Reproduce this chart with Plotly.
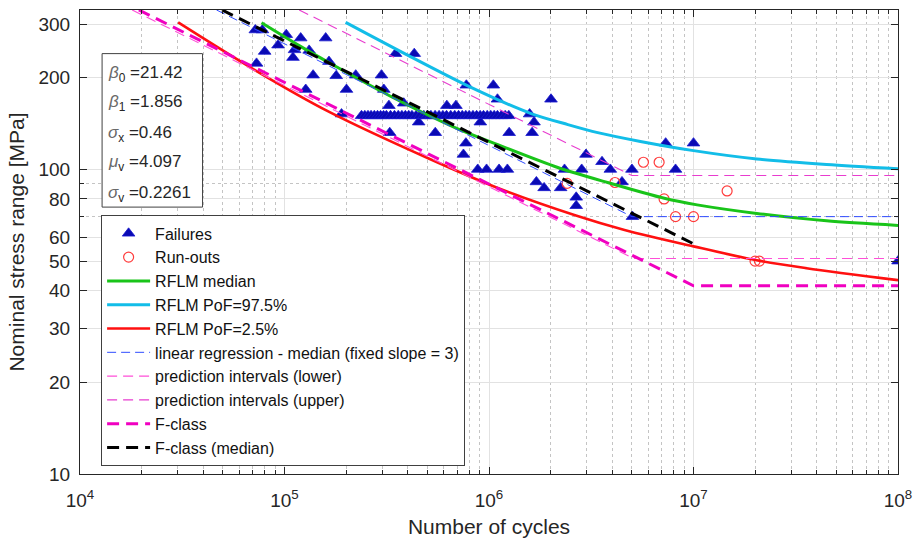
import plotly.graph_objects as go

# ---------------- data ----------------
fail_N = [7.2e4, 7.8e4, 1.02e5, 1.20e5, 1.59e5, 9.3e4, 1.12e5, 8.0e4, 1.10e5, 1.32e5,
          7.3e4, 1.65e5, 1.38e5, 1.79e5, 2.23e5, 2.98e5, 3.49e5, 4.31e5, 1.27e5, 2.01e5,
          3.06e5, 1.90e5, 3.27e5, 4.53e5, 5.46e5, 7.75e5, 1.05e6, 1.10e6, 9.07e5, 1.255e6,
          7.71e5, 7.5e5, 8.81e5, 9.73e5, 1.12e6, 1.23e6, 1.58e6, 1.66e6, 1.625e6, 2.01e6,
          1.705e6, 1.86e6, 2.24e6, 2.34e6, 2.84e6, 2.98e6, 2.67e6, 2.67e6, 3.57e6, 3.92e6,
          5.0e6, 4.47e6, 5.03e6, 7.31e6, 1.0e7, 8.17e6, 1.0e8,
          3.24e5, 3.83e5, 6.22e5, 6.89e5,
          2.38e5, 2.47e5, 2.56e5, 2.65e5, 2.75e5, 2.85e5, 2.95e5, 3.05e5, 3.15e5, 3.3e5,
          3.45e5, 3.6e5, 3.75e5, 3.9e5, 4.05e5, 4.2e5, 4.4e5, 4.6e5, 4.8e5, 5.0e5,
          5.2e5, 5.45e5, 5.7e5, 5.95e5, 6.2e5, 6.5e5, 6.8e5, 7.1e5, 7.4e5, 7.7e5,
          8.0e5, 8.35e5, 8.7e5, 9.05e5, 9.4e5, 9.8e5, 1.02e6, 1.06e6, 1.1e6, 1.15e6,
          1.2e6, 1.25e6]
fail_S = [287, 287, 277, 270, 270, 256, 247, 244, 233, 246,
          223, 226, 204, 203, 204, 204, 240, 240, 183, 183,
          183, 152, 132, 143, 132, 189, 189, 170, 143, 132,
          122, 112, 100, 100, 100, 100, 152, 143, 132, 170,
          91, 87, 87, 100, 100, 112, 81, 76, 106, 100,
          100, 91, 70, 122, 122, 100, 50,
          162, 165, 162, 162,
          150, 150, 150, 150, 150, 150, 150, 150, 150, 150,
          150, 150, 150, 150, 150, 150, 150, 150, 150, 150,
          150, 150, 150, 150, 150, 150, 150, 150, 150, 150,
          150, 150, 150, 150, 150, 150, 150, 150, 150, 150,
          150, 150]

runout_N = [2.41e6, 4.13e6, 5.69e6, 6.79e6, 7.18e6, 8.17e6, 1.0e7, 1.46e7, 2.0e7, 2.1e7]
runout_S = [90, 90.6, 105.6, 105.6, 80, 70, 70, 85, 50, 50]

rflm_med_N = [7.72e4, 1.18e5, 1.654e5, 3.35e5, 6.86e5, 1.07e6, 2.17e6, 3.80e6, 7.2e6, 1.042e7, 2.04e7, 4.47e7, 1.0e8]
rflm_med_S = [303, 255, 224, 173, 137, 121.6, 101.5, 90.6, 80.4, 76.5, 71.7, 67.8, 65.5]

rflm_hi_N = [1.99e5, 3.87e5, 8.02e5, 1.606e6, 2.43e6, 3.40e6, 5.5e6, 1.0e7, 2.04e7, 4.47e7, 1.0e8]
rflm_hi_S = [304, 240, 187, 152.6, 140.4, 132.1, 123.6, 115.3, 108.2, 103.8, 100.5]

rflm_lo_N = [3.02e4, 7.3e4, 1.654e5, 5.07e5, 1.073e6, 2.66e6, 4.6e6, 1.0e7, 2.04e7, 3.57e7, 1.0e8]
rflm_lo_S = [304, 210.4, 154.5, 108.6, 87.6, 70.6, 63.3, 55.9, 50.3, 47.4, 43.3]

linreg_N = [4.65e4, 5.0e6, 1.0e8]
linreg_S = [334, 70, 70]
pi_low_N = [1.8e4, 5.1e6, 1.0e8]
pi_low_S = [334, 51, 51]
pi_up_N = [1.18e5, 5.0e6, 1.0e8]
pi_up_S = [334, 95.5, 95.5]
fclass_N = [1.94e4, 1.0e7, 1.0e8]
fclass_S = [334, 41.5, 41.5]
fmed_N = [4.95e4, 1.0e7]
fmed_S = [334, 57]

x_major = [1e4, 1e5, 1e6, 1e7, 1e8]
x_labels = ["10<sup>4</sup>", "10<sup>5</sup>", "10<sup>6</sup>", "10<sup>7</sup>", "10<sup>8</sup>"]
x_minor = [k * 10 ** e for e in range(4, 8) for k in range(2, 10)]
y_major = [10, 20, 30, 40, 50, 60, 80, 100, 200, 300]
y_labels = ["10", "20", "30", "40", "50", "60", "80", "100", "200", "300"]
y_minor = [70, 90]

params = [("β", "0", "21.42"), ("β", "1", "1.856"), ("σ", "x", "0.46"),
          ("μ", "v", "4.097"), ("σ", "v", "0.2261")]

# ---------------- figure ----------------
FONT = "Liberation Sans, Arial, sans-serif"
TXT = "#262626"
fig = go.Figure()

fig.add_trace(go.Scatter(x=fail_N, y=fail_S, mode="markers", name="Failures",
                         marker=dict(symbol="triangle-up", size=11, color="#0a0ab4",
                                     line=dict(width=0.8, color="#1a1ad0"))))
fig.add_trace(go.Scatter(x=runout_N, y=runout_S, mode="markers", name="Run-outs",
                         marker=dict(symbol="circle-open", size=10, color="#ff3b3b",
                                     line=dict(width=1.2))))
fig.add_trace(go.Scatter(x=rflm_med_N, y=rflm_med_S, mode="lines", name="RFLM median",
                         line=dict(color="#19c419", width=3, shape="spline", smoothing=0.8)))
fig.add_trace(go.Scatter(x=rflm_hi_N, y=rflm_hi_S, mode="lines", name="RFLM PoF=97.5%",
                         line=dict(color="#12bde8", width=3, shape="spline", smoothing=0.8)))
fig.add_trace(go.Scatter(x=rflm_lo_N, y=rflm_lo_S, mode="lines", name="RFLM PoF=2.5%",
                         line=dict(color="#ff1010", width=2.6, shape="spline", smoothing=0.9)))
fig.add_trace(go.Scatter(x=linreg_N, y=linreg_S, mode="lines",
                         name="linear regression - median (fixed slope = 3)",
                         line=dict(color="#2f4cff", width=1, dash="9px,5px")))
fig.add_trace(go.Scatter(x=pi_low_N, y=pi_low_S, mode="lines", name="prediction intervals (lower)",
                         line=dict(color="#ff4fd8", width=1.1, dash="10px,6px")))
fig.add_trace(go.Scatter(x=pi_up_N, y=pi_up_S, mode="lines", name="prediction intervals (upper)",
                         line=dict(color="#e83ccf", width=1.1, dash="10px,6px")))
fig.add_trace(go.Scatter(x=fclass_N, y=fclass_S, mode="lines", name="F-class",
                         line=dict(color="#f000c0", width=3, dash="12px,7px")))
fig.add_trace(go.Scatter(x=fmed_N, y=fmed_S, mode="lines", name="F-class (median)",
                         line=dict(color="#000000", width=3, dash="12px,7px")))

axis_common = dict(type="log", showline=True, linecolor=TXT, linewidth=1, mirror="allticks",
                   ticks="inside", ticklen=7, tickcolor=TXT, showgrid=True, gridcolor="#e2e2e2",
                   gridwidth=1, zeroline=False, tickfont=dict(family=FONT, size=19, color=TXT))

fig.update_xaxes(range=[4, 8], tickmode="array", tickvals=x_major, ticktext=x_labels,
                 minor=dict(tickmode="array", tickvals=x_minor, ticks="inside", ticklen=4,
                            tickcolor=TXT, showgrid=True, gridcolor="#c4c4c4", griddash="dot",
                            gridwidth=1),
                 ticklabelstandoff=9,
                 title=dict(text="Number of cycles", font=dict(family=FONT, size=21, color=TXT),
                            standoff=9),
                 **axis_common)
fig.update_yaxes(range=[1, 2.5236], tickmode="array", tickvals=y_major, ticktext=y_labels,
                 minor=dict(tickmode="array", tickvals=y_minor, ticks="inside", ticklen=4,
                            tickcolor=TXT, showgrid=True, gridcolor="#c4c4c4", griddash="dot",
                            gridwidth=1),
                 ticklabelstandoff=5,
                 title=dict(text="Nominal stress range [MPa]",
                            font=dict(family=FONT, size=21, color=TXT), standoff=8),
                 **axis_common)

# parameter box
fig.add_shape(type="rect", xref="paper", yref="paper", x0=0.027, x1=0.1498, y0=0.5752, y1=0.906,
              line=dict(color="#404040", width=1), fillcolor="white", layer="above")
ys = [0.8620, 0.7985, 0.7329, 0.6694, 0.6038]
for (g, sub, val), yy in zip(params, ys):
    fig.add_annotation(xref="paper", yref="paper", x=0.032, y=yy, xanchor="left", yanchor="middle",
                       showarrow=False,
                       text=f"<i><span style='color:#6a6a6a'>{g}</span></i><sub>{sub}</sub> ={val}",
                       font=dict(family=FONT, size=17, color=TXT))

fig.update_layout(
    width=921, height=545, margin=dict(l=80, r=19, t=9, b=71),
    paper_bgcolor="white", plot_bgcolor="white",
    font=dict(family=FONT, color=TXT),
    showlegend=True,
    legend=dict(x=0.0258, y=0.5573, xanchor="left", yanchor="top", bgcolor="white",
                bordercolor="#404040", borderwidth=1, itemwidth=43,
                font=dict(family=FONT, size=16, color="#111111"), tracegroupgap=0),
)

fig.write_html("out.html")
